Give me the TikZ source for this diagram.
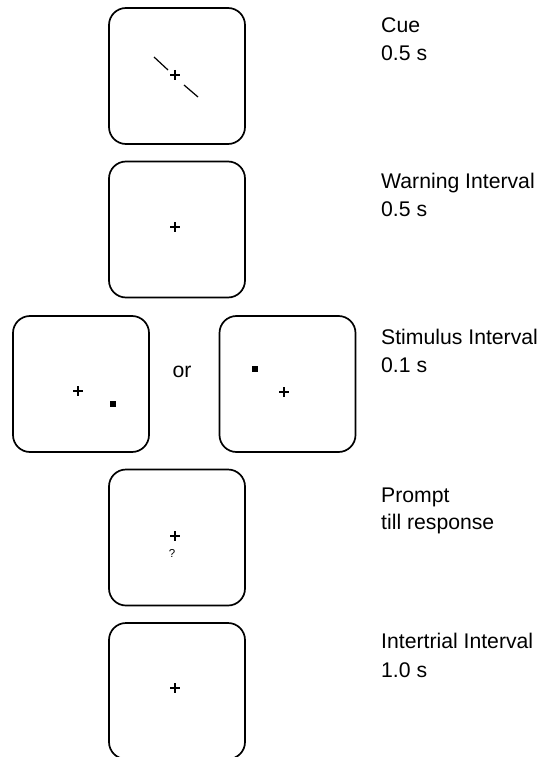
\documentclass[tikz,border=0pt]{standalone}
\usepackage{fontspec}
\setmainfont{Liberation Sans}
\begin{document}
\begin{tikzpicture}[x=1pt,y=-1pt,
  screen/.style={draw,line width=1.7pt,rounded corners=17pt,minimum width=136pt,minimum height=136pt,inner sep=0pt},
  lbl/.style={anchor=base west,inner sep=0pt,font=\fontsize{21.2}{28}\selectfont},
  dot/.style={fill=black,minimum size=6.5pt,inner sep=0pt},
  fixline/.style={line width=1.6pt},
  cueline/.style={line width=1.2pt}]
\useasboundingbox (0,0) rectangle (548,757);
\clip (0,0) rectangle (548,757);
% screens
\node[screen] (b1) at (177,76) {};
\node[screen] (b2) at (177,229.5) {};
\node[screen] (b3l) at (81,384) {};
\node[screen] (b3r) at (287.5,384) {};
\node[screen] (b4) at (177,537.5) {};
\node[screen] (b5) at (177,691) {};
% fixation crosses
\foreach \p in {(175,75),(175,227),(78,391),(284,392),(175,536),(175,688)}
  \draw[fixline,shift={\p}] (-5,0) -- (5,0) (0,-5) -- (0,5);
% cue lines
\coordinate (c1a) at (154,57); \coordinate (c1b) at (168,70);
\coordinate (c2a) at (184,85); \coordinate (c2b) at (198,97);
\draw[cueline] (c1a) -- (c1b);
\draw[cueline] (c2a) -- (c2b);
% stimuli
\node[dot] (s1) at (113,404) {};
\node[dot] (s2) at (255,369) {};
\node[inner sep=0pt,font=\fontsize{21.2}{24}\selectfont] (or) at (182,372) {or};
% prompt
\node[inner sep=0pt,font=\fontsize{11.5}{13}\selectfont] (q) at (172,553) {?};
% labels
\node[lbl] (l1a) at (381,33) {Cue};
\node[lbl] (l1b) at (381,61) {0.5 s};
\node[lbl] (l2a) at (381,188) {Warning Interval};
\node[lbl] (l2b) at (381,216) {0.5 s};
\node[lbl] (l3a) at (381,344) {Stimulus Interval};
\node[lbl] (l3b) at (381,372) {0.1 s};
\node[lbl] (l4a) at (381,502) {Prompt};
\node[lbl] (l4b) at (381,529) {till response};
\node[lbl] (l5a) at (381,648) {Intertrial Interval};
\node[lbl] (l5b) at (381,677) {1.0 s};
\end{tikzpicture}
\end{document}
